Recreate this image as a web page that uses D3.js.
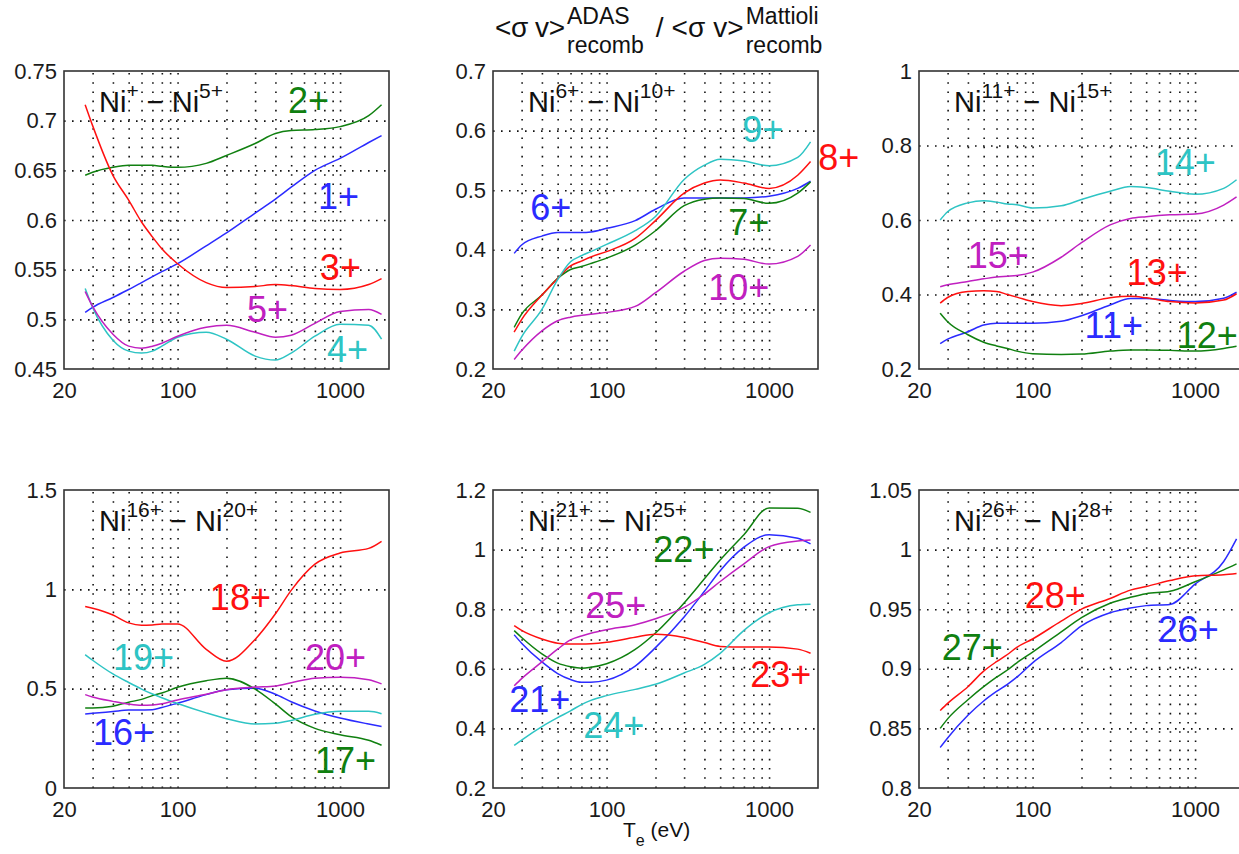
<!DOCTYPE html>
<html>
<head>
<meta charset="utf-8">
<script src="https://cdn.jsdelivr.net/npm/d3@7"></script>
<style>
  body { margin: 0; background: #fff; }
  svg { font-family: Arial, "Liberation Sans", sans-serif; }
</style>
</head>
<body>
<script>
// electron temperature (eV) where the curves were read
const te = [27, 30, 40, 50, 60, 70, 80, 100, 150, 200, 300, 400, 500, 700, 1000, 1500, 1800];

// <sv>ADAS / <sv>Mattioli recombination ratio, one array per Ni ion charge
const ni1  = [0.507, 0.512, 0.522, 0.530, 0.537, 0.543, 0.548, 0.556, 0.574, 0.587, 0.607, 0.621, 0.633, 0.650, 0.662, 0.678, 0.685];
const ni2  = [0.645, 0.648, 0.653, 0.655, 0.655, 0.655, 0.654, 0.653, 0.657, 0.665, 0.677, 0.687, 0.690, 0.691, 0.694, 0.705, 0.716];
const ni3  = [0.716, 0.695, 0.645, 0.620, 0.598, 0.583, 0.571, 0.556, 0.537, 0.532, 0.533, 0.535, 0.534, 0.531, 0.530, 0.535, 0.541];
const ni4  = [0.531, 0.512, 0.479, 0.468, 0.466, 0.468, 0.473, 0.482, 0.487, 0.480, 0.463, 0.459, 0.466, 0.483, 0.495, 0.494, 0.480];
const ni5  = [0.528, 0.513, 0.485, 0.473, 0.471, 0.473, 0.476, 0.483, 0.492, 0.494, 0.487, 0.482, 0.484, 0.496, 0.508, 0.510, 0.505];
const ni6  = [0.394, 0.408, 0.423, 0.429, 0.429, 0.429, 0.430, 0.436, 0.449, 0.468, 0.487, 0.487, 0.487, 0.487, 0.490, 0.503, 0.515];
const ni7  = [0.270, 0.292, 0.324, 0.352, 0.367, 0.372, 0.377, 0.386, 0.408, 0.432, 0.474, 0.485, 0.487, 0.486, 0.478, 0.495, 0.514];
const ni8  = [0.262, 0.283, 0.324, 0.352, 0.373, 0.381, 0.388, 0.397, 0.419, 0.449, 0.495, 0.512, 0.517, 0.512, 0.503, 0.525, 0.548];
const ni9  = [0.230, 0.254, 0.300, 0.350, 0.380, 0.390, 0.397, 0.409, 0.432, 0.456, 0.518, 0.542, 0.552, 0.549, 0.541, 0.555, 0.581];
const ni10 = [0.216, 0.231, 0.264, 0.281, 0.287, 0.290, 0.292, 0.295, 0.305, 0.328, 0.364, 0.382, 0.386, 0.384, 0.376, 0.389, 0.408];
const ni11 = [0.268, 0.280, 0.300, 0.318, 0.323, 0.323, 0.323, 0.323, 0.328, 0.343, 0.372, 0.389, 0.389, 0.384, 0.381, 0.390, 0.406];
const ni12 = [0.350, 0.327, 0.292, 0.272, 0.262, 0.255, 0.248, 0.241, 0.239, 0.240, 0.248, 0.251, 0.251, 0.250, 0.248, 0.255, 0.261];
const ni13 = [0.377, 0.392, 0.408, 0.410, 0.408, 0.400, 0.393, 0.381, 0.370, 0.376, 0.391, 0.395, 0.391, 0.381, 0.377, 0.385, 0.402];
const ni14 = [0.600, 0.622, 0.646, 0.652, 0.648, 0.643, 0.641, 0.632, 0.638, 0.655, 0.677, 0.690, 0.687, 0.677, 0.669, 0.685, 0.708];
const ni15 = [0.421, 0.426, 0.435, 0.442, 0.447, 0.449, 0.451, 0.460, 0.500, 0.539, 0.587, 0.604, 0.609, 0.614, 0.616, 0.640, 0.662];
const ni16 = [0.373, 0.376, 0.385, 0.392, 0.393, 0.394, 0.405, 0.427, 0.470, 0.495, 0.502, 0.472, 0.434, 0.388, 0.352, 0.322, 0.310];
const ni17 = [0.403, 0.403, 0.412, 0.432, 0.446, 0.465, 0.478, 0.507, 0.540, 0.553, 0.498, 0.423, 0.359, 0.300, 0.268, 0.240, 0.215];
const ni18 = [0.914, 0.905, 0.871, 0.831, 0.819, 0.821, 0.825, 0.826, 0.698, 0.638, 0.748, 0.877, 0.995, 1.127, 1.183, 1.206, 1.242];
const ni19 = [0.671, 0.643, 0.574, 0.531, 0.498, 0.473, 0.454, 0.425, 0.378, 0.349, 0.322, 0.326, 0.340, 0.371, 0.386, 0.386, 0.374];
const ni20 = [0.470, 0.458, 0.436, 0.422, 0.416, 0.418, 0.424, 0.443, 0.472, 0.495, 0.508, 0.514, 0.530, 0.553, 0.557, 0.545, 0.524];
const ni21 = [0.714, 0.686, 0.623, 0.584, 0.564, 0.555, 0.555, 0.562, 0.609, 0.671, 0.774, 0.860, 0.929, 1.008, 1.050, 1.038, 1.019];
const ni22 = [0.728, 0.705, 0.650, 0.619, 0.607, 0.602, 0.605, 0.617, 0.665, 0.720, 0.821, 0.902, 0.965, 1.050, 1.140, 1.139, 1.125];
const ni23 = [0.745, 0.729, 0.700, 0.686, 0.683, 0.683, 0.684, 0.689, 0.706, 0.716, 0.705, 0.688, 0.675, 0.673, 0.673, 0.666, 0.652];
const ni24 = [0.343, 0.361, 0.406, 0.436, 0.459, 0.480, 0.494, 0.510, 0.531, 0.548, 0.586, 0.615, 0.652, 0.729, 0.788, 0.815, 0.817];
const ni25 = [0.543, 0.567, 0.623, 0.666, 0.697, 0.710, 0.719, 0.731, 0.748, 0.768, 0.806, 0.851, 0.893, 0.952, 1.010, 1.029, 1.032];
const ni26 = [0.834, 0.842, 0.861, 0.873, 0.881, 0.887, 0.893, 0.905, 0.922, 0.936, 0.947, 0.951, 0.953, 0.954, 0.971, 0.990, 1.009];
const ni27 = [0.850, 0.858, 0.874, 0.885, 0.893, 0.899, 0.905, 0.914, 0.931, 0.943, 0.955, 0.960, 0.963, 0.965, 0.973, 0.983, 0.988];
const ni28 = [0.865, 0.871, 0.885, 0.898, 0.906, 0.912, 0.918, 0.925, 0.940, 0.950, 0.959, 0.966, 0.969, 0.974, 0.978, 0.979, 0.980];

// where each "q+" label sits, in data units (Te, ratio), charge 1..28
const labelTe  = [731, 478, 751, 830, 267, 33.9, 561, 2009, 684, 422, 209, 770, 379, 564, 39.9, 30.2, 701, 158, 40, 608, 25.2, 194, 766, 71.9, 74, 589, 27.6, 89.4];
const labelVal = [0.611, 0.708, 0.540, 0.457, 0.497, 0.45, 0.425, 0.534, 0.581, 0.316, 0.283, 0.256, 0.4255, 0.721, 0.471, 0.216, 0.0755, 0.896, 0.594, 0.594, 0.455, 0.958, 0.539, 0.368, 0.770, 0.9225, 0.907, 0.951];

const panelIons = [
  [ni1, ni2, ni3, ni4, ni5],
  [ni6, ni7, ni8, ni9, ni10],
  [ni11, ni12, ni13, ni14, ni15],
  [ni16, ni17, ni18, ni19, ni20],
  [ni21, ni22, ni23, ni24, ni25],
  [ni26, ni27, ni28]
];
const panelFirst = [1, 6, 11, 16, 21, 26];
const panelRange = [[0.45, 0.75], [0.2, 0.7], [0.2, 1], [0, 1.5], [0.2, 1.2], [0.8, 1.05]];
const panelYTicks = [
  [0.45, 0.5, 0.55, 0.6, 0.65, 0.7, 0.75],
  [0.2, 0.3, 0.4, 0.5, 0.6, 0.7],
  [0.2, 0.4, 0.6, 0.8, 1],
  [0, 0.5, 1, 1.5],
  [0.2, 0.4, 0.6, 0.8, 1, 1.2],
  [0.8, 0.85, 0.9, 0.95, 1, 1.05]
];
const panelTitle = [["+", "5+"], ["6+", "10+"], ["11+", "15+"], ["16+", "20+"], ["21+", "25+"], ["26+", "28+"]];
const teDomain = [20, 2000];
const teLabels = [20, 100, 1000];
const teGrid = [30, 40, 50, 60, 70, 80, 90, 100, 200, 300, 400, 500, 600, 700, 800, 900, 1000];

// matlab-ish b g r c m
const colors = ["#2b2bff", "#108010", "#ff1010", "#2ec4c4", "#c020c0"];

const W = 1239, H = 854;
const colLeft = [64, 493, 919];
const rowTop = [71, 490];
const pw = 325, ph = 298;

const svg = d3.select("body").append("svg")
  .attr("width", W).attr("height", H);

panelIons.forEach((ions, p) => {
  const left = colLeft[p % 3], top = rowTop[Math.floor(p / 3)];
  const x = d3.scaleLog().domain(teDomain).range([0, pw]);
  const y = d3.scaleLinear().domain(panelRange[p]).range([ph, 0]);

  const g = svg.append("g").attr("transform", "translate(" + left + "," + top + ")");

  // dotted grid
  const gx = g.append("g").attr("transform", "translate(0," + ph + ")")
    .call(d3.axisBottom(x).tickValues(teGrid).tickSize(-ph).tickFormat(""));
  gx.select(".domain").remove();
  gx.selectAll("line").attr("stroke", "#111").attr("stroke-width", 1.6).attr("stroke-dasharray", "1.6,7.6");

  const inner = panelYTicks[p].slice(1, -1);
  const gy = g.append("g")
    .call(d3.axisLeft(y).tickValues(inner).tickSize(-pw).tickFormat(""));
  gy.select(".domain").remove();
  gy.selectAll("line").attr("stroke", "#111").attr("stroke-width", 1.6).attr("stroke-dasharray", "1.6,6.4");

  // tick labels
  const lx = g.append("g").attr("transform", "translate(0," + ph + ")")
    .call(d3.axisBottom(x).tickValues(teLabels).tickFormat(d3.format("d")).tickSize(0).tickPadding(13));
  lx.select(".domain").remove();
  lx.attr("font-size", 22).attr("font-family", null);
  lx.selectAll("text").attr("fill", "#1b1b1b");

  const ly = g.append("g")
    .call(d3.axisLeft(y).tickValues(panelYTicks[p]).tickFormat(d => String(d)).tickSize(0).tickPadding(7));
  ly.select(".domain").remove();
  ly.attr("font-size", 22).attr("font-family", null);
  ly.selectAll("text").attr("fill", "#1b1b1b");

  // curves
  const line = d3.line()
    .x(d => x(d[0]))
    .y(d => y(d[1]))
    .curve(d3.curveMonotoneX);

  g.selectAll("path.curve")
    .data(ions)
    .join("path")
    .attr("class", "curve")
    .attr("fill", "none")
    .attr("stroke", (d, i) => colors[i])
    .attr("stroke-width", 1.5)
    .attr("d", d => line(d3.zip(te, d)));

  // frame
  g.append("rect")
    .attr("width", pw).attr("height", ph)
    .attr("fill", "none").attr("stroke", "#333").attr("stroke-width", 1.6);

  // charge labels
  ions.forEach((s, i) => {
    const q = panelFirst[p] + i;
    g.append("text")
      .attr("x", x(labelTe[q - 1]))
      .attr("y", y(labelVal[q - 1]))
      .attr("fill", colors[i])
      .style("font-size", "36px")
      .text(q + "+");
  });

  // panel title Ni^a+ - Ni^b+
  const t = g.append("text")
    .attr("x", 35).attr("y", 41)
    .attr("fill", "#111")
    .style("font-size", "29px");
  t.append("tspan").text("Ni");
  t.append("tspan").attr("dy", -14).style("font-size", "21px").text(panelTitle[p][0]);
  t.append("tspan").attr("dy", 14).text("\u00a0\u2212 Ni");
  t.append("tspan").attr("dy", -14).style("font-size", "21px").text(panelTitle[p][1]);
});

// top heading  <sv>ADAS_recomb / <sv>Mattioli_recomb
const head = svg.append("g").attr("fill", "#111");
let cx = 495;
[["<σ v>", "ADAS", 70], ["/ <σ v>", "Mattioli", 88]].forEach((part, k) => {
  if (k > 0) cx += 12;
  head.append("text").attr("x", cx).attr("y", 37)
    .attr("textLength", part[2]).attr("lengthAdjust", "spacing")
    .style("font-size", "28px").text(part[0]);
  cx += part[2] + 2;
  const sup = head.append("text").attr("x", cx).attr("y", 24)
    .style("font-size", "23px").text(part[1]);
  const sub = head.append("text").attr("x", cx).attr("y", 53)
    .style("font-size", "23px").text("recomb");
  cx += Math.max(sup.node().getComputedTextLength(), sub.node().getComputedTextLength());
});

// x axis title under the middle bottom panel
const xt = svg.append("text").attr("x", 623).attr("y", 837)
  .attr("fill", "#111").style("font-size", "21px");
xt.append("tspan").text("T");
xt.append("tspan").attr("dy", 9).style("font-size", "16px").text("e");
xt.append("tspan").attr("dy", -9).text("\u00a0(eV)");
</script>
</body>
</html>
